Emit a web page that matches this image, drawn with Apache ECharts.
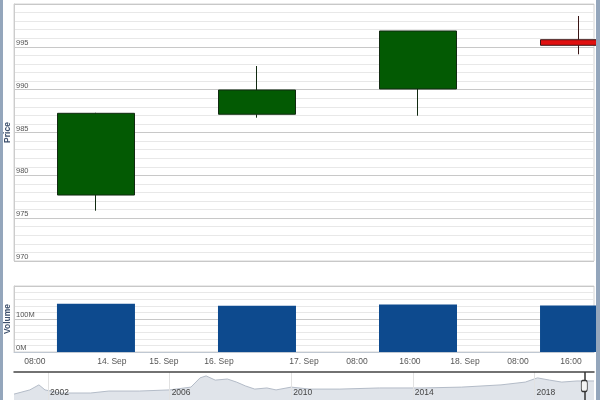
<!DOCTYPE html>
<html>
<head>
<meta charset="utf-8">
<script src="https://cdn.jsdelivr.net/npm/echarts@6/dist/echarts.min.js"></script>
<style>
  html, body { margin: 0; padding: 0; background: #fff; }
  #wrap { position: relative; width: 600px; height: 400px; overflow: hidden; }
  #chart { position: absolute; left: 0; top: 0; width: 600px; height: 400px; }
  .frame { position: absolute; top: 0; height: 400px; background: #94a6bc; }
</style>
</head>
<body>
<div id="wrap">
  <div id="chart"></div>
  <div class="frame" style="left:0;width:3px;"></div>
  <div class="frame" style="left:596px;width:4px;"></div>
</div>
<script>
// ---- data ----
const candleX   = [0, 1, 2, 3];
const openP     = [977.7, 987.13, 990.08, 995.83];
const closeP    = [987.24, 989.96, 996.85, 995.18];
const lowP      = [975.87, 986.73, 986.96, 994.13];
const highP     = [987.3, 992.76, 996.85, 998.6];
const volumes   = [145.9e6, 139.8e6, 143.7e6, 140.7e6];

const xMin = -0.509, xMax = 3.093;
const xTickPos    = [-0.379, 0.099, 0.422, 0.764, 1.292, 1.621, 1.950, 2.292, 2.621, 2.950];
const xTickLabels = ['08:00', '14. Sep', '15. Sep', '16. Sep', '17. Sep', '08:00', '16:00', '18. Sep', '08:00', '16:00'];

const navYears  = [2000.88, 2001.4, 2001.7, 2001.9, 2002.4, 2003.4, 2004.0, 2005.0, 2006.0, 2006.7, 2007.0, 2007.2, 2007.5, 2007.9, 2008.2, 2008.5, 2008.8, 2009.2, 2009.5, 2010.0, 2010.6, 2011.6, 2012.9, 2014.3, 2015.6, 2016.9, 2017.7, 2018.1, 2018.5, 2018.9, 2019.4, 2019.96];
const navValues = [21, 36, 54, 36, 25, 25, 32, 32, 36, 46, 79, 86, 71, 75, 64, 50, 39, 43, 36, 46, 39, 39, 43, 43, 46, 54, 64, 79, 71, 64, 68, 68];
const navMin = 2000.88, navMax = 2019.96;
const navYearTicks = [2002, 2006, 2010, 2014, 2018];
const navSelection = 2019.64;
const navHandleLevel = 50;

// ---- chart ----
const chart = echarts.init(document.getElementById('chart'), null, { renderer: 'canvas' });
const labelFont = 'Liberation Sans, Arial, sans-serif';
const gridBase = { left: 14, right: 6, containLabel: false, outerBoundsMode: 'none' };
const nameStyle = { color: '#3c4f6c', fontWeight: 'bold', fontSize: 8.5, fontFamily: labelFont };

const option = {
  animation: false,
  backgroundColor: '#ffffff',
  grid: [
    Object.assign({ top: 4, height: 257, show: true, borderColor: '#d4d4d4', borderWidth: 1 }, gridBase),
    Object.assign({ top: 286, height: 66, show: true, borderColor: '#d4d4d4', borderWidth: 1 }, gridBase),
    Object.assign({ top: 372, bottom: 0 }, gridBase)
  ],
  xAxis: [
    { type: 'value', gridIndex: 0, min: xMin, max: xMax, show: false, axisLine: { onZero: false }, splitLine: { show: false } },
    {
      type: 'value', gridIndex: 1, min: xMin, max: xMax,
      axisLine: { show: true, onZero: false, lineStyle: { color: '#c0c8d2', width: 1 } },
      axisTick: { show: false, customValues: xTickPos },
      splitLine: { show: false },
      axisLabel: {
        customValues: xTickPos, margin: 5, color: '#555', fontSize: 8.5, fontFamily: labelFont,
        formatter: function (v) {
          const i = xTickPos.findIndex(p => Math.abs(p - v) < 1e-6);
          return i >= 0 ? xTickLabels[i] : '';
        }
      }
    },
    {
      type: 'value', gridIndex: 2, min: navMin, max: navMax, position: 'bottom', z: 5,
      axisLine: { show: false, onZero: false },
      axisTick: { show: false, customValues: navYearTicks },
      splitLine: { show: true, lineStyle: { color: '#e2e2e2', width: 1 } },
      axisLabel: {
        customValues: navYearTicks, inside: true, margin: 3, align: 'left', padding: [0, 0, 0, 2],
        color: '#444', fontSize: 8.5, fontFamily: labelFont, formatter: v => String(Math.round(v))
      }
    },
    {
      type: 'value', gridIndex: 2, min: navMin, max: navMax, position: 'top', z: 5,
      axisLine: { show: true, onZero: false, lineStyle: { color: '#444', width: 1.5 } },
      axisTick: { show: false }, axisLabel: { show: false }, splitLine: { show: false }
    }
  ],
  yAxis: [
    {
      type: 'value', gridIndex: 0, min: 970, max: 1000, interval: 5,
      name: 'Price', nameLocation: 'middle', nameRotate: 90, nameGap: 2, nameMoveOverlap: false,
      nameTextStyle: nameStyle,
      axisLine: { show: true, onZero: false, lineStyle: { color: '#cccccc' } },
      axisTick: { show: false },
      axisLabel: { inside: true, margin: 2, verticalAlign: 'bottom', showMaxLabel: false, color: '#555', fontSize: 7.5, fontFamily: labelFont },
      splitLine: { show: true, lineStyle: { color: '#c8c8c8', width: 1 } },
      minorTick: { show: false, splitNumber: 5 },
      minorSplitLine: { show: true, lineStyle: { color: '#e8e8e8', width: 1 } }
    },
    {
      type: 'value', gridIndex: 1, min: 0, max: 200e6, interval: 100e6,
      name: 'Volume', nameLocation: 'middle', nameRotate: 90, nameGap: 2, nameMoveOverlap: false,
      nameTextStyle: nameStyle,
      axisLine: { show: true, onZero: false, lineStyle: { color: '#cccccc' } },
      axisTick: { show: false },
      axisLabel: {
        inside: true, margin: 2, verticalAlign: 'bottom', showMaxLabel: false, color: '#555', fontSize: 7.5, fontFamily: labelFont,
        formatter: v => (v / 1e6) + 'M'
      },
      splitLine: { show: true, lineStyle: { color: '#c8c8c8', width: 1 } },
      minorTick: { show: false, splitNumber: 5 },
      minorSplitLine: { show: true, lineStyle: { color: '#e8e8e8', width: 1 } }
    },
    { type: 'value', gridIndex: 2, min: 0, max: 100, show: false, axisLine: { onZero: false }, splitLine: { show: false } }
  ],
  series: [
    {
      type: 'candlestick', xAxisIndex: 0, yAxisIndex: 0, clip: true, barWidth: 78,
      encode: { x: 0, y: [1, 2, 3, 4] },
      data: candleX.map((x, i) => [x, openP[i], closeP[i], lowP[i], highP[i]]),
      itemStyle: { color: '#035a03', color0: '#e01010', borderColor: '#112a11', borderColor0: '#3a1515', borderWidth: 1 }
    },
    {
      type: 'bar', xAxisIndex: 1, yAxisIndex: 1, clip: true, barWidth: 78,
      data: candleX.map((x, i) => [x, volumes[i]]),
      itemStyle: { color: '#0d4a8e' }
    },
    {
      type: 'line', xAxisIndex: 2, yAxisIndex: 2, symbol: 'none', silent: true, z: 1,
      data: navYears.map((y, i) => [y, navValues[i]]),
      lineStyle: { color: '#b4bcc8', width: 1 },
      areaStyle: { color: '#e0e4ea', opacity: 1 },
      markLine: {
        silent: true, symbol: 'none', label: { show: false }, z: 6,
        lineStyle: { color: '#333', width: 1.5, type: 'solid' },
        data: [{ xAxis: navSelection }]
      },
      markPoint: {
        silent: true, symbol: 'roundRect', symbolSize: [6, 11], z: 7,
        itemStyle: { color: '#f4f4f4', borderColor: '#333', borderWidth: 1 },
        label: { show: false },
        data: [{ coord: [navSelection, navHandleLevel] }]
      }
    }
  ]
};
chart.setOption(option);
</script>
</body>
</html>
